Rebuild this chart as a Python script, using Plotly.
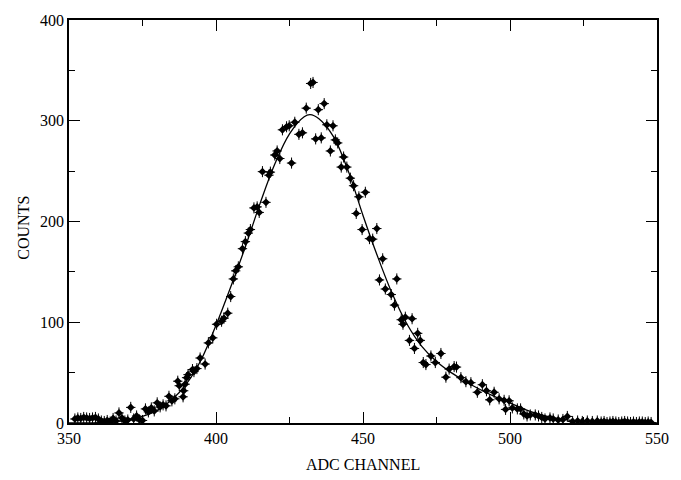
import plotly.graph_objects as go

# measured data points (ADC channel, counts)
chan = [352, 353, 354, 355, 356, 357, 358, 359, 360, 361, 362, 363, 364, 365, 366, 367, 368, 369, 370, 371,
        372, 373, 374, 375, 376, 377, 378, 379, 380, 381, 382, 383, 384, 385, 386, 387, 387.5, 388.8, 389, 389.5,
        390, 390.5, 392, 392.5, 393.5, 394.6, 396.3, 397.4, 398.9, 400.2, 401.9, 402.7, 404, 405, 405.9, 406.7,
        407.6, 409, 410, 411, 411.7, 412.9, 414, 414.7, 415.8, 417, 418, 418.5, 420, 420.8, 421.7, 422.6, 424,
        424.9, 425.7, 426.8, 428.2, 429.4, 430.7, 432.2, 433, 433.9, 434.8, 435.8, 436.8, 437.7, 438.9, 439.8,
        440.6, 441.4, 442.6, 443.4, 444.5, 445.7, 446.8, 447.7, 448.6, 449.7, 450.8, 452.2, 453.3, 454.7, 455.6,
        456.7, 457.6, 459.6, 460.7, 461.5, 463, 463.6, 464.4, 465.8, 466.7, 467.5, 468.6, 469.5, 470.5, 471.4,
        473.1, 474.6, 476.5, 478.2, 479.3, 481, 481.8, 483.3, 485, 486.7, 488.9, 490.6, 492, 493.1, 494.6, 496.3,
        498, 498.5, 499.7, 500.8, 502.5, 503.6, 504.7, 505.8, 506.9, 508.6, 509.7, 510.8, 511.9, 513.6, 514.7,
        516.4, 518, 519.5, 521.3, 523, 524.6, 526.3, 528, 529.7, 531, 532, 533, 534, 535, 536, 537, 538, 539, 540,
        541, 542, 543, 544, 545, 546, 547, 548]
counts = [4, 5, 4.5, 5.5, 5, 4.5, 5, 5.5, 4, 2, 1.5, 2.5, 1, 4.5, 2, 10, 5, 2, 3, 15.5,
          4, 7, 3, 2.5, 14, 11, 15, 12, 20, 16, 18, 17, 26.5, 22, 24, 41.5, 37, 26, 32, 38.5,
          45, 48, 53, 51, 54, 64.5, 58.5, 79.5, 84.5, 98, 101, 104, 109, 125.5, 143, 151,
          155, 173, 180, 188.5, 192, 213.5, 214.5, 209, 249.5, 219, 246, 249, 266, 270, 262.5, 291, 294,
          295, 258, 298.5, 286.5, 288, 312.5, 337, 338, 282, 311, 283, 317, 296, 270, 295,
          281, 278, 254, 264, 254, 243, 235.5, 208, 224.5, 192, 229, 183, 182.5, 193, 142,
          163, 133, 127.5, 117, 143, 102.5, 98, 105, 82, 103.5, 74, 89, 82, 60, 58,
          66.5, 60, 69, 45.5, 53.5, 56, 55.5, 45, 41, 40, 30.5, 38, 32, 23, 30.5, 24,
          22.5, 13.5, 22, 15, 14, 14, 9, 7, 8, 8, 7, 5.5, 4, 5, 4,
          3, 3.5, 6.5, 1.5, 2, 1.5, 2, 1.5, 2, 1, 1.5, 0.5, 1, 1.5, 1, 0.5, 1, 1.5, 1,
          0.5, 1, 0.5, 1, 1, 0.5, 1, 0.5]

# fitted curve
fit_chan = [350, 355, 360, 365, 370, 375, 380, 385, 390, 395, 400, 405, 410, 415, 420, 425, 430, 432, 435,
            440, 445, 450, 455, 460, 465, 470, 475, 480, 485, 490, 495, 500, 505, 510, 515, 520, 525, 530,
            540, 550]
fit_counts = [0, 0.1, 0.4, 1.2, 3, 6.5, 12.5, 23, 39, 63, 97, 135, 175, 218, 257, 287, 304, 306, 302,
              284, 250, 206, 165, 128, 98, 76, 61, 50, 41, 33, 26, 20, 13.5, 8.5, 5, 2.8, 1.4, 0.7,
              0.2, 0]

x_ticks = [350, 400, 450, 500, 550]
y_ticks = [0, 100, 200, 300, 400]

FONT = "Liberation Serif, Times New Roman, serif"

fig = go.Figure()
fig.add_trace(go.Scatter(
    x=fit_chan, y=fit_counts, mode="lines",
    line=dict(color="black", width=1.3, shape="spline", smoothing=1.0),
    hoverinfo="skip", showlegend=False))
fig.add_trace(go.Scatter(
    x=chan, y=counts, mode="markers",
    marker=dict(symbol="diamond", size=6, color="black"),
    error_y=dict(type="constant", value=5.5, thickness=1, width=0, color="black"),
    error_x=dict(type="constant", value=1.6, thickness=1, width=0, color="black"),
    showlegend=False))

axis_common = dict(
    showgrid=False, zeroline=False, showline=True, linecolor="black", linewidth=1.5,
    mirror="ticks", ticks="inside", ticklen=11, tickwidth=1.2, tickcolor="black",
    tickfont=dict(family=FONT, size=16, color="black"),
)
fig.update_xaxes(range=[350, 550], tickvals=x_ticks, ticktext=[str(v) for v in x_ticks],
                 minor=dict(dtick=25, tick0=350, ticks="inside", ticklen=6, tickwidth=1.2, tickcolor="black"),
                 **axis_common)
fig.update_yaxes(range=[0, 400], tickvals=y_ticks, ticktext=[str(v) for v in y_ticks],
                 minor=dict(dtick=50, tick0=0, ticks="inside", ticklen=6, tickwidth=1.2, tickcolor="black"),
                 **axis_common)

fig.update_layout(
    width=681, height=480,
    margin=dict(l=69, r=23, t=15, b=57),
    paper_bgcolor="white", plot_bgcolor="white",
    font=dict(family=FONT, color="black"),
    annotations=[
        dict(text="ADC CHANNEL", xref="paper", yref="paper", x=0.5, y=-0.103,
             xanchor="center", yanchor="middle", showarrow=False,
             font=dict(family=FONT, size=16, color="black")),
        dict(text="COUNTS", xref="paper", yref="paper", x=-0.078, y=0.485,
             xanchor="center", yanchor="middle", textangle=-90, showarrow=False,
             font=dict(family=FONT, size=16, color="black")),
    ],
)

fig.write_html(
    "out.html",
    config={"displayModeBar": False},
    post_script="document.body.style.margin='0';document.body.style.overflow='hidden';",
)
